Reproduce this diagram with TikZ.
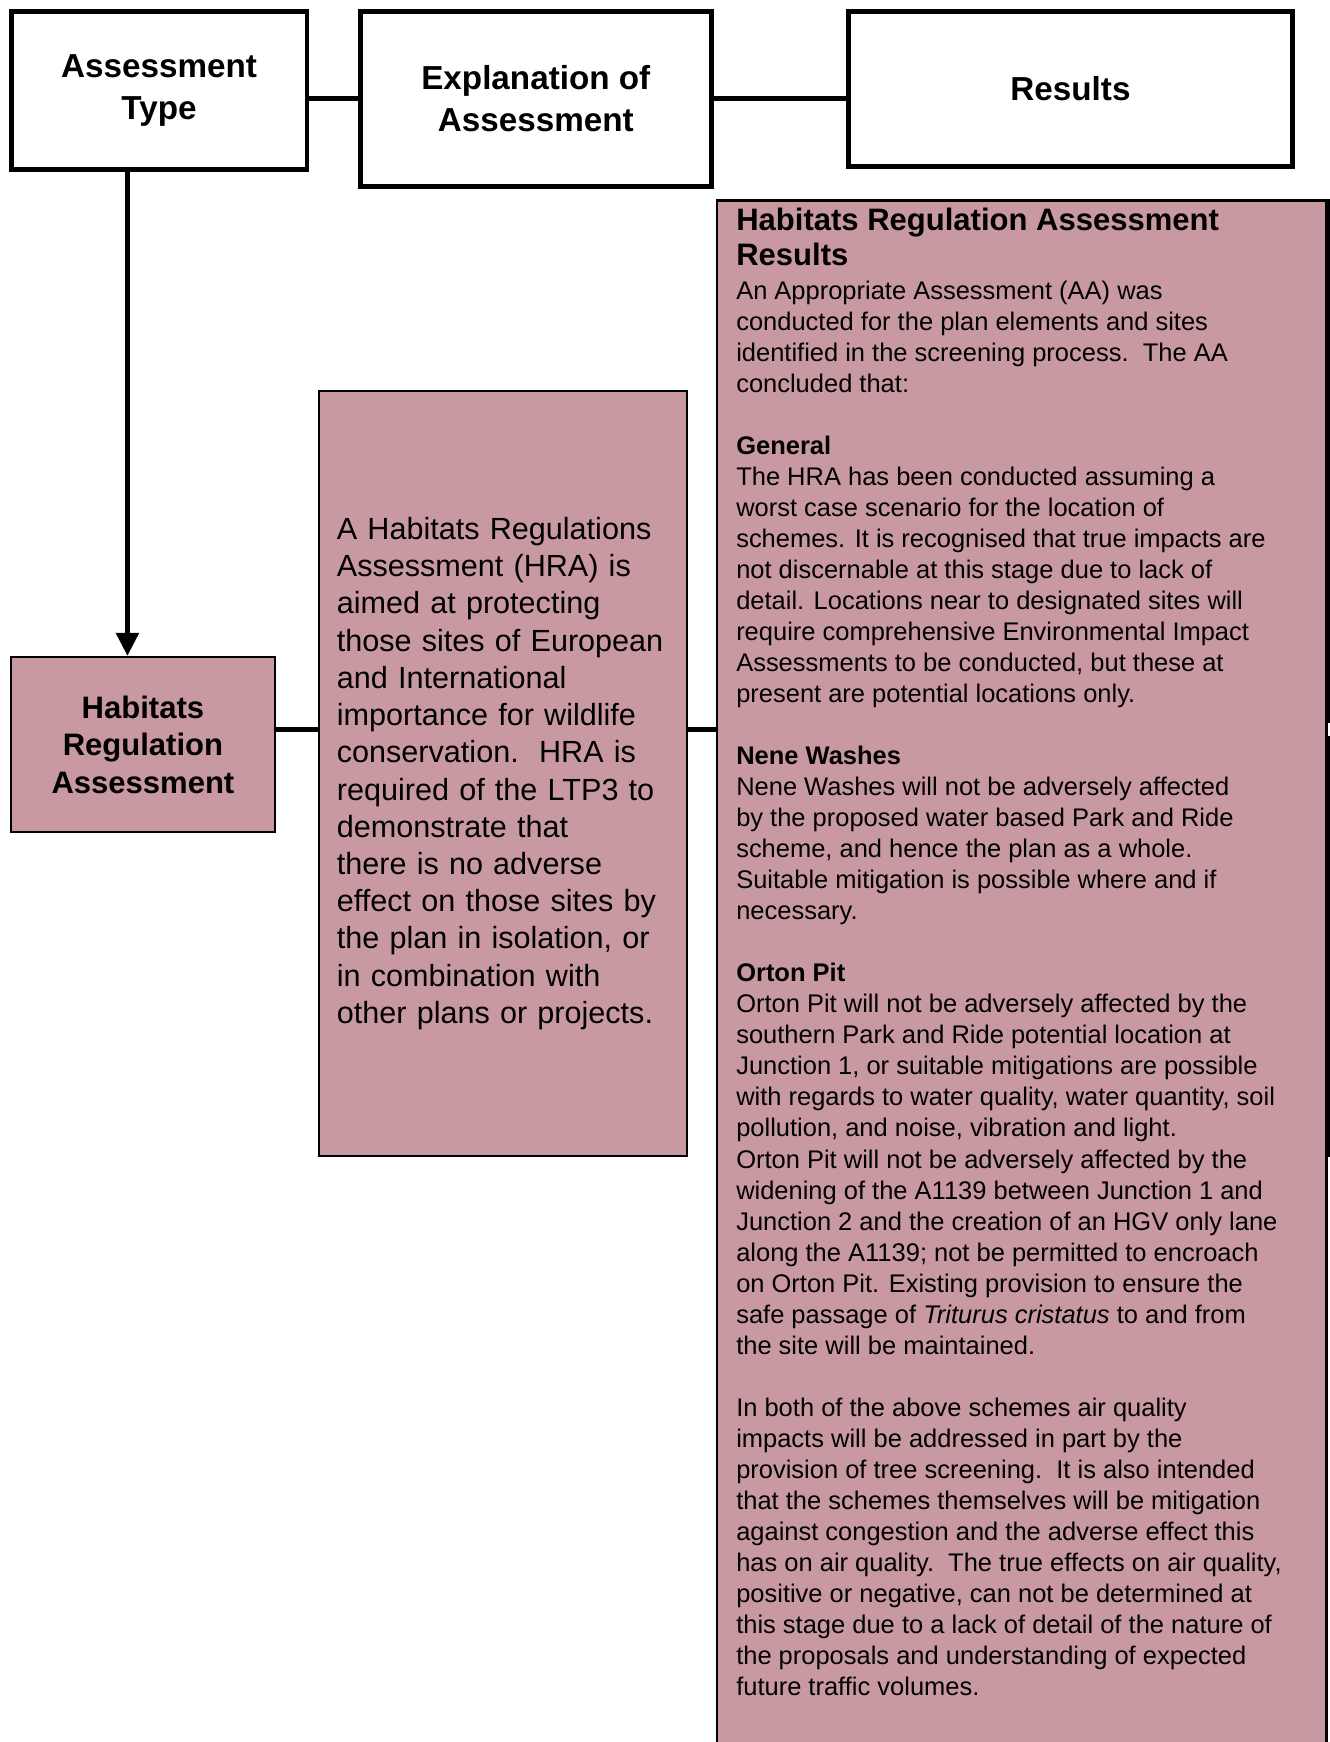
\documentclass[tikz,border=0pt]{standalone}
\usepackage{fontspec}
\setmainfont{Liberation Sans}
\usetikzlibrary{positioning,arrows.meta,calc}
\definecolor{hrapink}{RGB}{201,153,162}
\tikzset{
  head/.style={draw, line width=2.2pt, align=center, font=\fontsize{15}{19}\selectfont\bfseries},
  pinkbox/.style={draw, line width=1pt, fill=hrapink},
  link/.style={line width=2.4pt},
}

\begin{document}
\begin{tikzpicture}[x=0.5pt, y=-0.5pt]
        \useasboundingbox (0,0) rectangle (1200,1572);
        \node[head, minimum width=133.5pt, minimum height=71.5pt] (type) at (143.5,81.5) {Assessment\\Type};
        \node[head, minimum width=158.5pt, minimum height=79pt] (explain) at (483.5,89) {Explanation of\\Assessment};
        \node[head, minimum width=200pt, minimum height=70pt] (results) at (966,80) {Results};
        \node[pinkbox, align=center, minimum width=119pt, minimum height=79pt,
              font=\fontsize{14}{17}\selectfont\bfseries] (hra) at (129,672) {Habitats\\Regulation\\Assessment};
        \node[pinkbox, minimum width=166pt, minimum height=345pt, text width=150pt, inner xsep=8pt,
              align=left, font=\fontsize{13.8}{16.8}\selectfont] (mid) at (454,698)
            {A Habitats Regulations\\Assessment (HRA) is\\aimed at protecting\\those sites of European\\
             and International\\importance for wildlife\\conservation.\ \ HRA is\\required of the LTP3 to\\
             demonstrate that\\there is no adverse\\effect on those sites by\\the plan in isolation, or\\
             in combination with\\other plans or projects.};
        \node[pinkbox, anchor=north west, minimum width=275pt, minimum height=710pt] (rb) at (646,180) {};
        \node[anchor=base west, inner sep=0pt, align=left, font=\fontsize{14}{16}\selectfont\bfseries]
            (rbhead) at (664,240) {Habitats Regulation Assessment\\Results};
        \node[anchor=base west, inner sep=0pt, align=left, font=\fontsize{11.5}{14}\selectfont] (rbtext) at (664,1530)
            {An Appropriate Assessment (AA) was\\
             conducted for the plan elements and sites\\
             identified in the screening process.\ \ The AA\\
             concluded that:\\[14pt]
             \textbf{General}\\
             The HRA has been conducted assuming a\\
             worst case scenario for the location of\\
             schemes. It is recognised that true impacts are\\
             not discernable at this stage due to lack of\\
             detail. Locations near to designated sites will\\
             require comprehensive Environmental Impact\\
             Assessments to be conducted, but these at\\
             present are potential locations only.\\[14pt]
             \textbf{Nene Washes}\\
             Nene Washes will not be adversely affected\\
             by the proposed water based Park and Ride\\
             scheme, and hence the plan as a whole.\\
             Suitable mitigation is possible where and if\\
             necessary.\\[14pt]
             \textbf{Orton Pit}\\
             Orton Pit will not be adversely affected by the\\
             southern Park and Ride potential location at\\
             Junction 1, or suitable mitigations are possible\\
             with regards to water quality, water quantity, soil\\
             pollution, and noise, vibration and light.\\
             Orton Pit will not be adversely affected by the\\
             widening of the A1139 between Junction 1 and\\
             Junction 2 and the creation of an HGV only lane\\
             along the A1139; not be permitted to encroach\\
             on Orton Pit. Existing provision to ensure the\\
             safe passage of \textit{Triturus cristatus} to and from\\
             the site will be maintained.\\[14pt]
             In both of the above schemes air quality\\
             impacts will be addressed in part by the\\
             provision of tree screening.\ \ It is also intended\\
             that the schemes themselves will be mitigation\\
             against congestion and the adverse effect this\\
             has on air quality.\ \ The true effects on air quality,\\
             positive or negative, can not be determined at\\
             this stage due to a lack of detail of the nature of\\
             the proposals and understanding of expected\\
             future traffic volumes.};
        \coordinate (drop) at (115,0);
        \coordinate (tie) at (0,658);
        \draw[link] (type.east |- explain.west) -- (explain.west);
        \draw[link] (explain.east) -- (results.west |- explain.east);
        \draw[link, -{Triangle[width=10pt,length=10.5pt]}] (type.south -| drop) -- (hra.north -| drop);
        \draw[link] (hra.east |- tie) -- (mid.west |- tie);
        \draw[link] (mid.east |- tie) -- (rb.west |- tie);
        \draw[link] (rb.north east) -- ($(rb.east |- tie)+(0,-6)$);
        \draw[link] ($(rb.east |- tie)+(0,6)$) -- (rb.east |- mid.south);
\end{tikzpicture}
\end{document}
